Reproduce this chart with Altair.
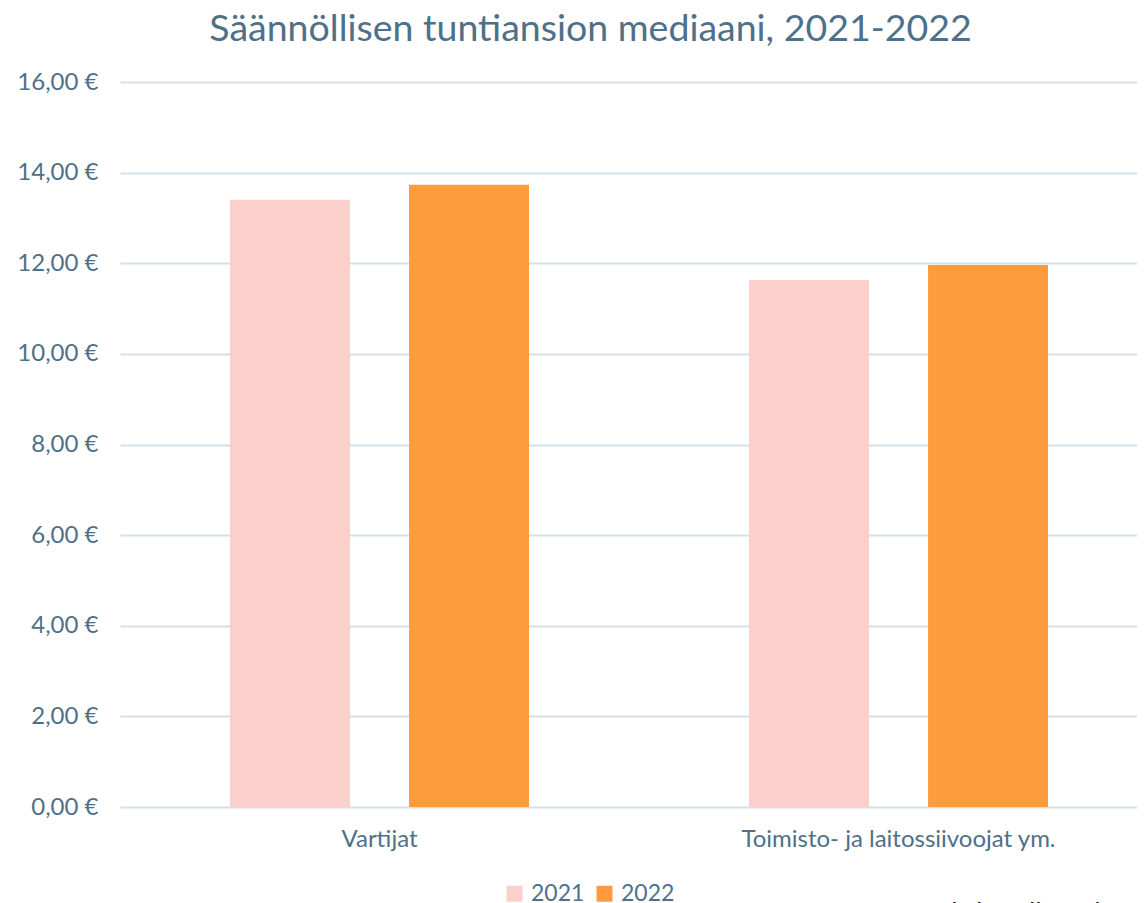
import altair as alt
import pandas as pd

# ---- data ----
categories = ["Vartijat", "Toimisto- ja laitossiivoojat ym."]
years = ["2021", "2022"]
values_2021 = [13.40, 11.63]
values_2022 = [13.73, 11.96]
source_text = ["Lähde: Tilastokeskus"]

rows = []
for i, c in enumerate(categories):
    rows.append({"ammatti": c, "vuosi": years[0], "ansio": values_2021[i]})
    rows.append({"ammatti": c, "vuosi": years[1], "ansio": values_2022[i]})
df = pd.DataFrame(rows)

TEXT = "#4E7089"
GRID = "#D6E0E8"
FONT = "Lato"
C2021 = "#FBCFCA"
C2022 = "#FF9B3F"

bars = alt.Chart(df).mark_bar().encode(
    x=alt.X(
        "ammatti:N",
        sort=categories,
        scale=alt.Scale(range=[0, 1038], paddingInner=0, paddingOuter=0),
        axis=alt.Axis(
            title=None,
            labelAngle=0,
            labelFont=FONT,
            labelFontSize=24,
            labelColor=TEXT,
            labelPadding=20,
            labelLimit=1000,
            ticks=False,
            domain=False,
            grid=False,
        ),
    ),
    xOffset=alt.XOffset(
        "vuosi:N",
        sort=years,
        scale=alt.Scale(paddingInner=0.33, paddingOuter=0.614),
    ),
    y=alt.Y(
        "ansio:Q",
        scale=alt.Scale(domain=[0, 16], nice=False),
        axis=alt.Axis(
            title=None,
            values=[0, 2, 4, 6, 8, 10, 12, 14, 16],
            labelExpr="replace(format(datum.value, '.2f'), '.', ',') + ' €'",
            labelFont=FONT,
            labelFontSize=24,
            labelColor=TEXT,
            labelPadding=22,
            ticks=False,
            domain=False,
            grid=True,
            gridColor=GRID,
            gridWidth=2,
        ),
    ),
    color=alt.Color(
        "vuosi:N",
        sort=years,
        scale=alt.Scale(domain=years, range=[C2021, C2022]),
        legend=alt.Legend(
            title=None,
            orient="none",
            direction="horizontal",
            legendX=383,
            legendY=800,
            symbolType="square",
            symbolSize=256,
            symbolStrokeWidth=0,
            labelFont=FONT,
            labelFontSize=23,
            labelColor=TEXT,
            labelOffset=5,
            columnPadding=8,
        ),
    ),
)

src = alt.Chart(pd.DataFrame({"t": source_text})).mark_text(
    font="Liberation Sans",
    fontSize=28,
    color="#222222",
    align="left",
    baseline="alphabetic",
).encode(
    text="t:N",
    x=alt.value(800),
    y=alt.value(840),
)

chart = alt.layer(bars, src).properties(
    width=1017,
    height=725,
    background="white",
    autosize=alt.AutoSizeParams(type="none"),
    padding={"left": 112, "top": 74, "right": 0, "bottom": 96},
    title=alt.TitleParams(
        "Säännöllisen tuntiansion mediaani, 2021-2022",
        font=FONT,
        fontSize=37.5,
        fontWeight="normal",
        color=TEXT,
        anchor="middle",
        frame="group",
        dx=-38,
        offset=26,
        dy=34,
        baseline="alphabetic",
    ),
).configure_view(
    strokeWidth=0, stroke="transparent"
).configure_axis(
    domain=False, ticks=False
)

chart.save("out.html", embed_options={"renderer": "svg", "actions": False})
